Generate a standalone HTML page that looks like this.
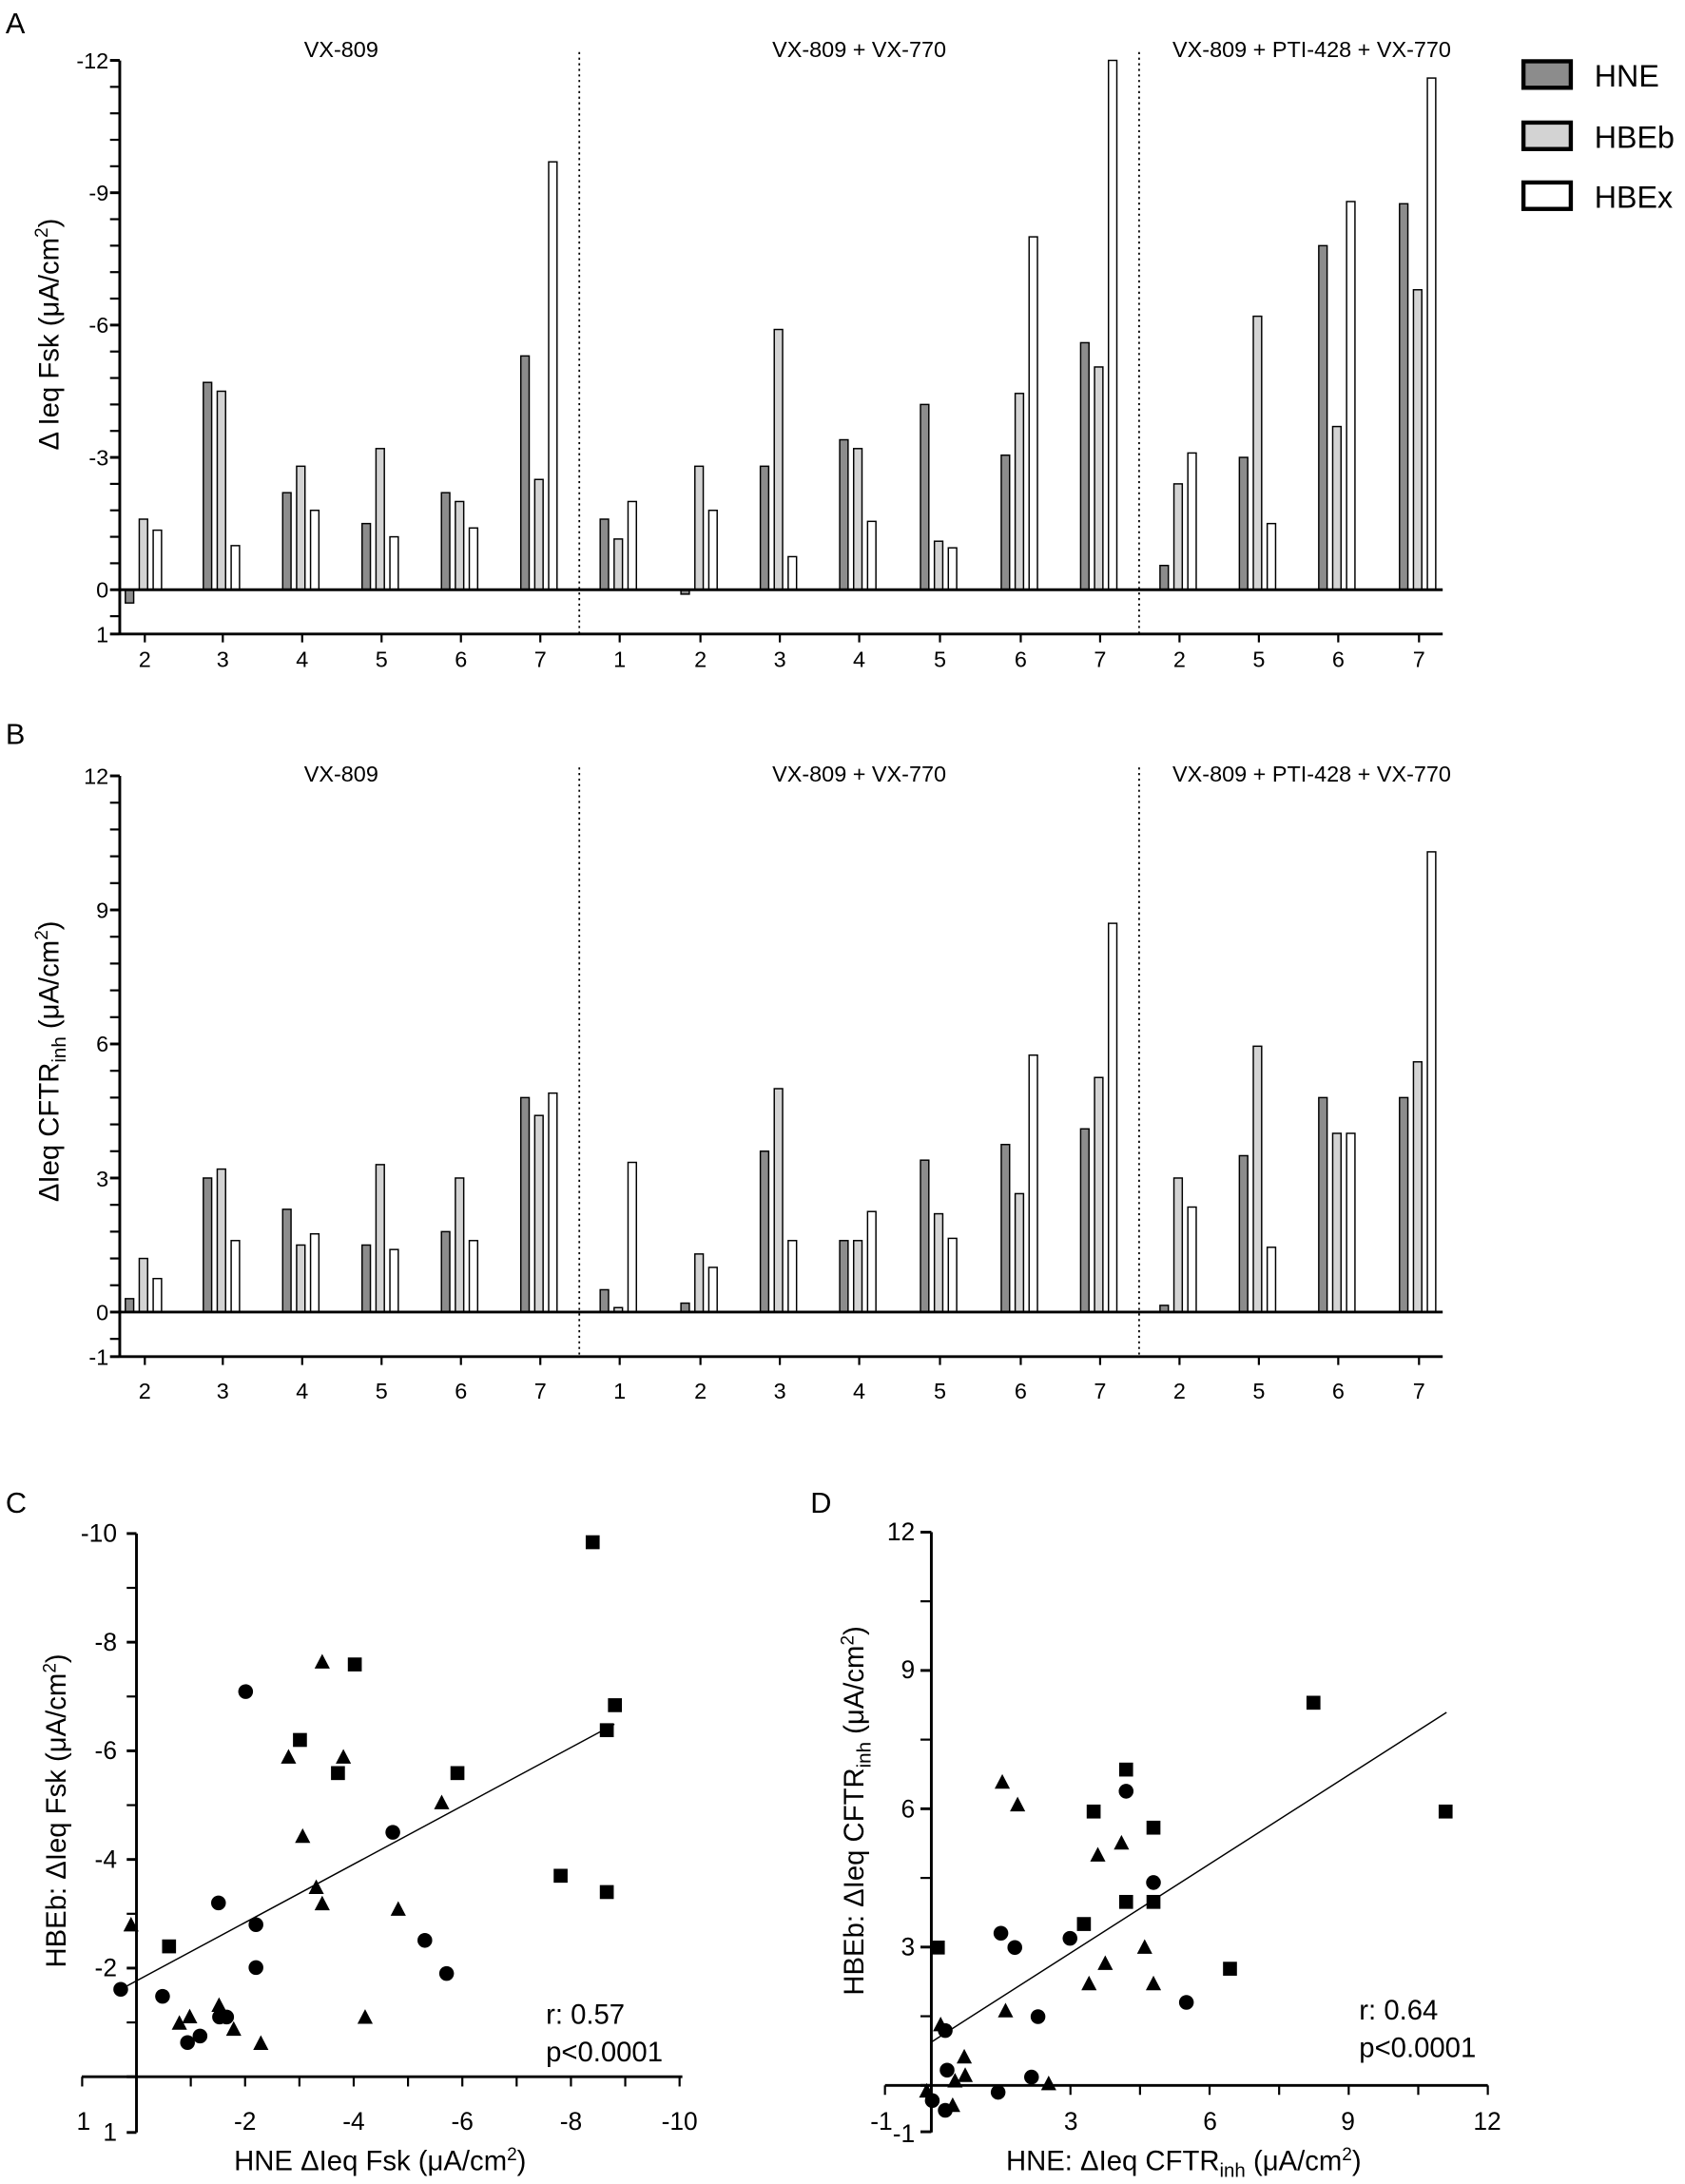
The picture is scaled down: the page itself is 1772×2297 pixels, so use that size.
<!DOCTYPE html>
<html><head><meta charset="utf-8"><style>
html,body{margin:0;padding:0;background:#fff}
svg{display:block}
text{font-family:"Liberation Sans",Arial,sans-serif;fill:#000}
</style></head><body>
<svg id="s" width="1772" height="2297" viewBox="0 0 1210 1568" preserveAspectRatio="none" xmlns="http://www.w3.org/2000/svg">
<g id="g"></g>
<text x="4" y="24" font-size="21">A</text>
<text x="4" y="534" font-size="21">B</text>
<text x="4" y="1086" font-size="21">C</text>
<text x="582" y="1086" font-size="21">D</text>
<g font-size="16" text-anchor="middle">
<text x="245" y="41">VX-809</text>
<text x="617" y="41">VX-809 + VX-770</text>
<text x="942" y="41">VX-809 + PTI-428 + VX-770</text>
<text x="245" y="561">VX-809</text>
<text x="617" y="561">VX-809 + VX-770</text>
<text x="942" y="561">VX-809 + PTI-428 + VX-770</text>
</g>
<g font-size="16" text-anchor="end">
<text x="78" y="49">-12</text><text x="78" y="144">-9</text><text x="78" y="239">-6</text><text x="78" y="334">-3</text><text x="78" y="429">0</text><text x="78" y="461">1</text>
<text x="78" y="563">12</text><text x="78" y="659">9</text><text x="78" y="755">6</text><text x="78" y="852">3</text><text x="78" y="948">0</text><text x="78" y="980">-1</text>
</g>
<g font-size="16" text-anchor="middle">
<text x="104" y="479">2</text><text x="160" y="479">3</text><text x="217" y="479">4</text><text x="274" y="479">5</text><text x="331" y="479">6</text><text x="388" y="479">7</text>
<text x="445" y="479">1</text><text x="503" y="479">2</text><text x="560" y="479">3</text><text x="617" y="479">4</text><text x="675" y="479">5</text><text x="733" y="479">6</text><text x="790" y="479">7</text>
<text x="847" y="479">2</text><text x="904" y="479">5</text><text x="961" y="479">6</text><text x="1019" y="479">7</text>
<text x="104" y="1004">2</text><text x="160" y="1004">3</text><text x="217" y="1004">4</text><text x="274" y="1004">5</text><text x="331" y="1004">6</text><text x="388" y="1004">7</text>
<text x="445" y="1004">1</text><text x="503" y="1004">2</text><text x="560" y="1004">3</text><text x="617" y="1004">4</text><text x="675" y="1004">5</text><text x="733" y="1004">6</text><text x="790" y="1004">7</text>
<text x="847" y="1004">2</text><text x="904" y="1004">5</text><text x="961" y="1004">6</text><text x="1019" y="1004">7</text>
</g>
<text transform="translate(42,240) rotate(-90)" font-size="20" text-anchor="middle">Δ Ieq Fsk (μA/cm<tspan font-size="13" dy="-8">2</tspan><tspan dy="8">)</tspan></text>
<text transform="translate(42,762) rotate(-90)" font-size="20" text-anchor="middle">ΔIeq CFTR<tspan font-size="14" dy="5">inh</tspan><tspan dy="-5"> (μA/cm</tspan><tspan font-size="13" dy="-8">2</tspan><tspan dy="8">)</tspan></text>
<rect x="1094" y="44" width="34" height="19" fill="#8c8c8c" stroke="#000" stroke-width="3"/>
<rect x="1094" y="88" width="34" height="19" fill="#d3d3d3" stroke="#000" stroke-width="3"/>
<rect x="1094" y="131" width="34" height="19" fill="#fff" stroke="#000" stroke-width="3"/>
<g font-size="22"><text x="1145" y="62">HNE</text><text x="1145" y="106">HBEb</text><text x="1145" y="149">HBEx</text></g>
<g font-size="18" text-anchor="end">
<text x="84" y="1107">-10</text><text x="84" y="1185">-8</text><text x="84" y="1263">-6</text><text x="84" y="1341">-4</text><text x="84" y="1419">-2</text><text x="84" y="1537">1</text>
</g>
<g font-size="18" text-anchor="middle">
<text x="60" y="1529">1</text><text x="176" y="1529">-2</text><text x="254" y="1529">-4</text><text x="332" y="1529">-6</text><text x="410" y="1529">-8</text><text x="488" y="1529">-10</text>
</g>
<text x="273" y="1558" font-size="20" text-anchor="middle">HNE ΔIeq Fsk (μA/cm<tspan font-size="13" dy="-7">2</tspan><tspan dy="7">)</tspan></text>
<text transform="translate(47,1300) rotate(-90)" font-size="20" text-anchor="middle">HBEb: ΔIeq Fsk (μA/cm<tspan font-size="13" dy="-7">2</tspan><tspan dy="7">)</tspan></text>
<g font-size="20"><text x="392" y="1453">r: 0.57</text><text x="392" y="1480">p&lt;0.0001</text>
<text x="976" y="1450">r: 0.64</text><text x="976" y="1477">p&lt;0.0001</text></g>
<g font-size="18" text-anchor="end">
<text x="657" y="1106">12</text><text x="657" y="1205">9</text><text x="657" y="1305">6</text><text x="657" y="1404">3</text><text x="657" y="1538">-1</text>
</g>
<g font-size="18" text-anchor="middle">
<text x="633" y="1529">-1</text><text x="769" y="1529">3</text><text x="869" y="1529">6</text><text x="968" y="1529">9</text><text x="1068" y="1529">12</text>
</g>
<text x="850" y="1558" font-size="20" text-anchor="middle">HNE: ΔIeq CFTR<tspan font-size="14" dy="5">inh</tspan><tspan dy="-5"> (μA/cm</tspan><tspan font-size="13" dy="-7">2</tspan><tspan dy="7">)</tspan></text>
<text transform="translate(620,1300) rotate(-90)" font-size="20" text-anchor="middle">HBEb: ΔIeq CFTR<tspan font-size="14" dy="5">inh</tspan><tspan dy="-5"> (μA/cm</tspan><tspan font-size="13" dy="-7">2</tspan><tspan dy="7">)</tspan></text>
</svg>
<script>
(function(){
var NS="http://www.w3.org/2000/svg",g=document.getElementById("g");
function el(t,a){var e=document.createElementNS(NS,t);for(var k in a)e.setAttribute(k,a[k]);g.appendChild(e);return e;}
function line(x1,y1,x2,y2,w,extra){var a={x1:x1,y1:y1,x2:x2,y2:y2,stroke:"#000","stroke-width":w||1.5};if(extra)for(var k in extra)a[k]=extra[k];el("line",a);}
var L=[104,160,217,274,331,388,445,503,560,617,675,733,790,847,904,961,1019];
var A=[[-0.3,1.6,1.35],[4.7,4.5,1.0],[2.2,2.8,1.8],[1.5,3.2,1.2],[2.2,2.0,1.4],[5.3,2.5,9.7],
[1.6,1.15,2.0],[-0.1,2.8,1.8],[2.8,5.9,0.75],[3.4,3.2,1.55],[4.2,1.1,0.95],[3.05,4.45,8.0],[5.6,5.05,12],
[0.55,2.4,3.1],[3.0,6.2,1.5],[7.8,3.7,8.8],[8.75,6.8,11.6]];
var B=[[0.3,1.2,0.75],[3.0,3.2,1.6],[2.3,1.5,1.75],[1.5,3.3,1.4],[1.8,3.0,1.6],[4.8,4.4,4.9],
[0.5,0.1,3.35],[0.2,1.3,1.0],[3.6,5.0,1.6],[1.6,1.6,2.25],[3.4,2.2,1.65],[3.75,2.65,5.75],[4.1,5.25,8.7],
[0.15,3.0,2.35],[3.5,5.95,1.45],[4.8,4.0,4.0],[4.8,5.6,10.3]];
var cols=["#8c8c8c","#d3d3d3","#fff"],off=[-14,-4,6];
function bars(D,y0,u,ybot,ytop){
 for(var i=0;i<L.length;i++)for(var j=0;j<3;j++){var v=D[i][j];var h=Math.abs(v*u);var y=v>=0?y0-h:y0;
  el("rect",{x:L[i]+off[j],y:y,width:6,height:Math.max(h,0.8),fill:cols[j],stroke:"#000","stroke-width":1});}
 line(86,y0,1036,y0,2);line(86,ybot,1036,ybot,2);line(86,ytop,86,ybot,2);
 for(var k=0;k<=20;k++){var yy=y0-k*u*0.6;if(yy<ytop-1)break;line(79,yy,86,yy,(k%5==0)?2:1.5);}
 line(79,y0+0.6*u,86,y0+0.6*u,1.5);line(79,ybot,86,ybot,2);
 for(var i=0;i<L.length;i++)line(L[i],ybot,L[i],ybot+6,1.5);
 line(416,ytop-6,416,ybot,1.2,{"stroke-dasharray":"1.5,2.5"});line(818,ytop-6,818,ybot,1.2,{"stroke-dasharray":"1.5,2.5"});
}
bars(A,423.4,31.67,455.2,43.4);
bars(B,942,32.08,974,557);
function mk(type,x,y){
 if(type=="s")el("rect",{x:x-5,y:y-5,width:10,height:10,fill:"#000"});
 else if(type=="c")el("circle",{cx:x,cy:y,r:5.3,fill:"#000"});
 else el("polygon",{points:(x)+","+(y-6)+" "+(x-5.5)+","+(y+4.5)+" "+(x+5.5)+","+(y+4.5),fill:"#000"});
}
var CX=function(v){return 98+39*v},CY=function(v){return 1491-39*v};
line(98,1101,98,1531,2);line(58.7,1491,490,1491,2);
for(var k=0;k<=10;k++){line(91,CY(k),98,CY(k),k%2==0?2:1.5);}
line(91,1531,98,1531,2);
for(var k=-1;k<=10;k++){line(CX(k),1491,CX(k),1498,1.5);}
line(CX(-0.29),CY(1.61),CX(8.8),CY(6.49),1);
var Cs=[[8.4,9.84],[8.81,6.84],[8.66,6.38],[4.02,7.59],[3.01,6.2],[3.71,5.59],[5.91,5.59],[7.81,3.7],[8.66,3.4],[0.6,2.4]];
var Cc=[[2.01,7.09],[4.72,4.5],[1.51,3.2],[2.2,2.8],[5.31,2.51],[2.2,2.01],[5.71,1.9],[-0.29,1.61],[0.48,1.48],[1.53,1.1],[1.66,1.1],[1.17,0.75],[0.94,0.63]];
var Ct=[[3.42,7.63],[2.8,5.88],[3.81,5.88],[5.62,5.04],[3.06,4.42],[3.31,3.48],[3.42,3.18],[4.82,3.08],[-0.1,2.79],[1.52,1.31],[0.98,1.1],[0.79,0.98],[1.79,0.87],[4.21,1.09],[2.29,0.61]];
Cs.forEach(function(p){mk("s",CX(p[0]),CY(p[1]))});Cc.forEach(function(p){mk("c",CX(p[0]),CY(p[1]))});Ct.forEach(function(p){mk("t",CX(p[0]),CY(p[1]))});
var DX=function(v){return 668.8+33.3*v},DY=function(v){return 1497.2-33.1*v};
line(668.8,1100,668.8,1531,2);line(635.5,1497.2,1068.4,1497.2,2);
for(var k=0;k<=8;k++){line(661,DY(k*1.5),668.8,DY(k*1.5),k%2==0?2:1.5);}
line(661,1530.5,668.8,1530.5,2);
line(DX(-1),1497.2,DX(-1),1504,1.5);
for(var k=0;k<=8;k++){line(DX(k*1.5),1497.2,DX(k*1.5),1504,1.5);}
line(DX(0),DY(0.94),DX(11.11),DY(8.09),1);
var Ds=[[8.24,8.3],[11.09,5.94],[4.2,6.85],[3.5,5.94],[4.79,5.59],[4.2,3.98],[4.79,3.98],[3.29,3.5],[0.14,2.99],[6.44,2.53]];
var Dc=[[4.2,6.38],[4.79,4.4],[1.5,3.3],[1.8,2.99],[2.99,3.19],[5.5,1.8],[2.3,1.49],[0.3,1.19],[0.34,0.33],[2.16,0.18],[1.44,-0.15],[0.02,-0.33],[0.3,-0.54]];
var Dt=[[1.53,6.57],[1.86,6.08],[4.1,5.25],[3.59,4.99],[4.6,2.99],[3.75,2.64],[3.4,2.2],[4.79,2.2],[1.6,1.61],[0.2,1.31],[0.71,0.61],[0.73,0.21],[0.51,0.09],[2.53,0.03],[-0.1,-0.13],[0.46,-0.44]];
Ds.forEach(function(p){mk("s",DX(p[0]),DY(p[1]))});Dc.forEach(function(p){mk("c",DX(p[0]),DY(p[1]))});Dt.forEach(function(p){mk("t",DX(p[0]),DY(p[1]))});
})();
</script>
</body></html>
